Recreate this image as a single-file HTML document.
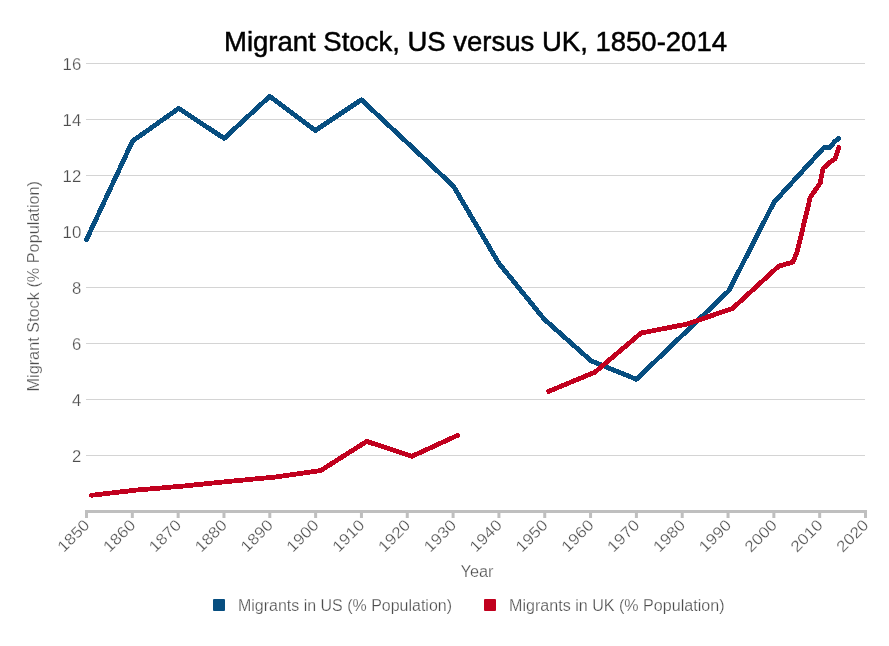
<!DOCTYPE html>
<html><head><meta charset="utf-8"><style>
html,body{margin:0;padding:0;background:#fff;width:889px;height:646px;overflow:hidden}
svg{display:block}
#w{will-change:transform;width:889px;height:646px}
text{font-family:"Liberation Sans",sans-serif}
.thin{stroke:#fff;stroke-width:0.25px}
</style></head><body>
<div id="w"><svg width="889" height="646" viewBox="0 0 889 646">
<rect width="889" height="646" fill="#fff"/>
<text x="224" y="51" font-size="27.5" fill="#000" stroke="#000" stroke-width="0.5" textLength="503" lengthAdjust="spacingAndGlyphs">Migrant Stock, US versus UK, 1850-2014</text>
<rect x="86" y="63" width="779" height="1" fill="#d4d4d4"/><rect x="86" y="119" width="779" height="1" fill="#d4d4d4"/><rect x="86" y="175" width="779" height="1" fill="#d4d4d4"/><rect x="86" y="231" width="779" height="1" fill="#d4d4d4"/><rect x="86" y="287" width="779" height="1" fill="#d4d4d4"/><rect x="86" y="343" width="779" height="1" fill="#d4d4d4"/><rect x="86" y="399" width="779" height="1" fill="#d4d4d4"/><rect x="86" y="455" width="779" height="1" fill="#d4d4d4"/>
<g class="thin" font-size="15.6" fill="#4d4d4d"><text x="81.3" y="70.0" text-anchor="end" textLength="18.7" lengthAdjust="spacingAndGlyphs">16</text><text x="81.3" y="126.0" text-anchor="end" textLength="18.7" lengthAdjust="spacingAndGlyphs">14</text><text x="81.3" y="182.0" text-anchor="end" textLength="18.7" lengthAdjust="spacingAndGlyphs">12</text><text x="81.3" y="238.0" text-anchor="end" textLength="18.7" lengthAdjust="spacingAndGlyphs">10</text><text x="81.3" y="294.0" text-anchor="end" textLength="9.3" lengthAdjust="spacingAndGlyphs">8</text><text x="81.3" y="350.0" text-anchor="end" textLength="9.3" lengthAdjust="spacingAndGlyphs">6</text><text x="81.3" y="406.0" text-anchor="end" textLength="9.3" lengthAdjust="spacingAndGlyphs">4</text><text x="81.3" y="462.0" text-anchor="end" textLength="9.3" lengthAdjust="spacingAndGlyphs">2</text></g>
<rect x="85" y="510" width="782" height="3" fill="#bfbfbf"/>
<rect x="85.00" y="510" width="3" height="8" fill="#bfbfbf"/><rect x="130.82" y="510" width="3" height="8" fill="#bfbfbf"/><rect x="176.65" y="510" width="3" height="8" fill="#bfbfbf"/><rect x="222.47" y="510" width="3" height="8" fill="#bfbfbf"/><rect x="268.30" y="510" width="3" height="8" fill="#bfbfbf"/><rect x="314.12" y="510" width="3" height="8" fill="#bfbfbf"/><rect x="359.94" y="510" width="3" height="8" fill="#bfbfbf"/><rect x="405.77" y="510" width="3" height="8" fill="#bfbfbf"/><rect x="451.59" y="510" width="3" height="8" fill="#bfbfbf"/><rect x="497.42" y="510" width="3" height="8" fill="#bfbfbf"/><rect x="543.24" y="510" width="3" height="8" fill="#bfbfbf"/><rect x="589.06" y="510" width="3" height="8" fill="#bfbfbf"/><rect x="634.89" y="510" width="3" height="8" fill="#bfbfbf"/><rect x="680.71" y="510" width="3" height="8" fill="#bfbfbf"/><rect x="726.54" y="510" width="3" height="8" fill="#bfbfbf"/><rect x="772.36" y="510" width="3" height="8" fill="#bfbfbf"/><rect x="818.18" y="510" width="3" height="8" fill="#bfbfbf"/><rect x="864.01" y="510" width="3" height="8" fill="#bfbfbf"/>
<g class="thin" font-size="15.6" fill="#4d4d4d"><text transform="translate(83.50,519) rotate(-45)" text-anchor="end" x="0" y="10" textLength="38" lengthAdjust="spacingAndGlyphs">1850</text><text transform="translate(129.32,519) rotate(-45)" text-anchor="end" x="0" y="10" textLength="38" lengthAdjust="spacingAndGlyphs">1860</text><text transform="translate(175.15,519) rotate(-45)" text-anchor="end" x="0" y="10" textLength="38" lengthAdjust="spacingAndGlyphs">1870</text><text transform="translate(220.97,519) rotate(-45)" text-anchor="end" x="0" y="10" textLength="38" lengthAdjust="spacingAndGlyphs">1880</text><text transform="translate(266.80,519) rotate(-45)" text-anchor="end" x="0" y="10" textLength="38" lengthAdjust="spacingAndGlyphs">1890</text><text transform="translate(312.62,519) rotate(-45)" text-anchor="end" x="0" y="10" textLength="38" lengthAdjust="spacingAndGlyphs">1900</text><text transform="translate(358.44,519) rotate(-45)" text-anchor="end" x="0" y="10" textLength="38" lengthAdjust="spacingAndGlyphs">1910</text><text transform="translate(404.27,519) rotate(-45)" text-anchor="end" x="0" y="10" textLength="38" lengthAdjust="spacingAndGlyphs">1920</text><text transform="translate(450.09,519) rotate(-45)" text-anchor="end" x="0" y="10" textLength="38" lengthAdjust="spacingAndGlyphs">1930</text><text transform="translate(495.92,519) rotate(-45)" text-anchor="end" x="0" y="10" textLength="38" lengthAdjust="spacingAndGlyphs">1940</text><text transform="translate(541.74,519) rotate(-45)" text-anchor="end" x="0" y="10" textLength="38" lengthAdjust="spacingAndGlyphs">1950</text><text transform="translate(587.56,519) rotate(-45)" text-anchor="end" x="0" y="10" textLength="38" lengthAdjust="spacingAndGlyphs">1960</text><text transform="translate(633.39,519) rotate(-45)" text-anchor="end" x="0" y="10" textLength="38" lengthAdjust="spacingAndGlyphs">1970</text><text transform="translate(679.21,519) rotate(-45)" text-anchor="end" x="0" y="10" textLength="38" lengthAdjust="spacingAndGlyphs">1980</text><text transform="translate(725.04,519) rotate(-45)" text-anchor="end" x="0" y="10" textLength="38" lengthAdjust="spacingAndGlyphs">1990</text><text transform="translate(770.86,519) rotate(-45)" text-anchor="end" x="0" y="10" textLength="38" lengthAdjust="spacingAndGlyphs">2000</text><text transform="translate(816.68,519) rotate(-45)" text-anchor="end" x="0" y="10" textLength="38" lengthAdjust="spacingAndGlyphs">2010</text><text transform="translate(862.51,519) rotate(-45)" text-anchor="end" x="0" y="10" textLength="38" lengthAdjust="spacingAndGlyphs">2020</text></g>
<text x="460.5" y="577" class="thin" font-size="15.6" fill="#4d4d4d" textLength="33" lengthAdjust="spacingAndGlyphs">Year</text>
<text transform="translate(39,391.5) rotate(-90)" class="thin" font-size="15.6" fill="#4d4d4d" textLength="210.5" lengthAdjust="spacingAndGlyphs">Migrant Stock (% Population)</text>
<g fill="none" stroke-width="4.8" stroke-linejoin="round" stroke-linecap="round" shape-rendering="crispEdges">
<path d="M86.5,239.6 L132.6,141.0 L178.7,108.4 L224.2,138.4 L269.7,96.3 L315.3,130.5 L361.4,99.8 L430.0,164.0 L453.5,186.3 L498.5,262.8 L544.2,319.2 L591.0,360.8 L636.4,379.3 L729.0,290.5 L774.0,202.3 L824.0,147.5 L830.3,147.3 L834.3,141.8 L838.4,138.6" stroke="#074e80"/>
<path d="M91.4,495.3 L137.1,490.0 L183.0,486.1 L228.9,481.4 L274.8,477.1 L320.6,470.6 L366.7,441.4 L412.0,456.3 L457.5,435.4" stroke="#c1001e"/>
<path d="M548.6,391.4 L594.9,372.2 L641.1,333.0 L687.5,324.0 L732.7,308.3 L778.5,266.3 L793.0,262.0 L797.5,250.5 L810.2,197.5 L820.2,183.0 L823.0,168.5 L830.4,162.0 L835.0,158.8 L838.9,147.3" stroke="#c1001e"/>
</g>
<rect x="213" y="599" width="12" height="12" rx="1" fill="#074e80"/>
<text x="238" y="611" class="thin" font-size="15.6" fill="#4d4d4d" textLength="214" lengthAdjust="spacingAndGlyphs">Migrants in US (% Population)</text>
<rect x="484" y="599" width="12" height="12" rx="1" fill="#c1001e"/>
<text x="509" y="611" class="thin" font-size="15.6" fill="#4d4d4d" textLength="215.5" lengthAdjust="spacingAndGlyphs">Migrants in UK (% Population)</text>
</svg></div>
</body></html>
